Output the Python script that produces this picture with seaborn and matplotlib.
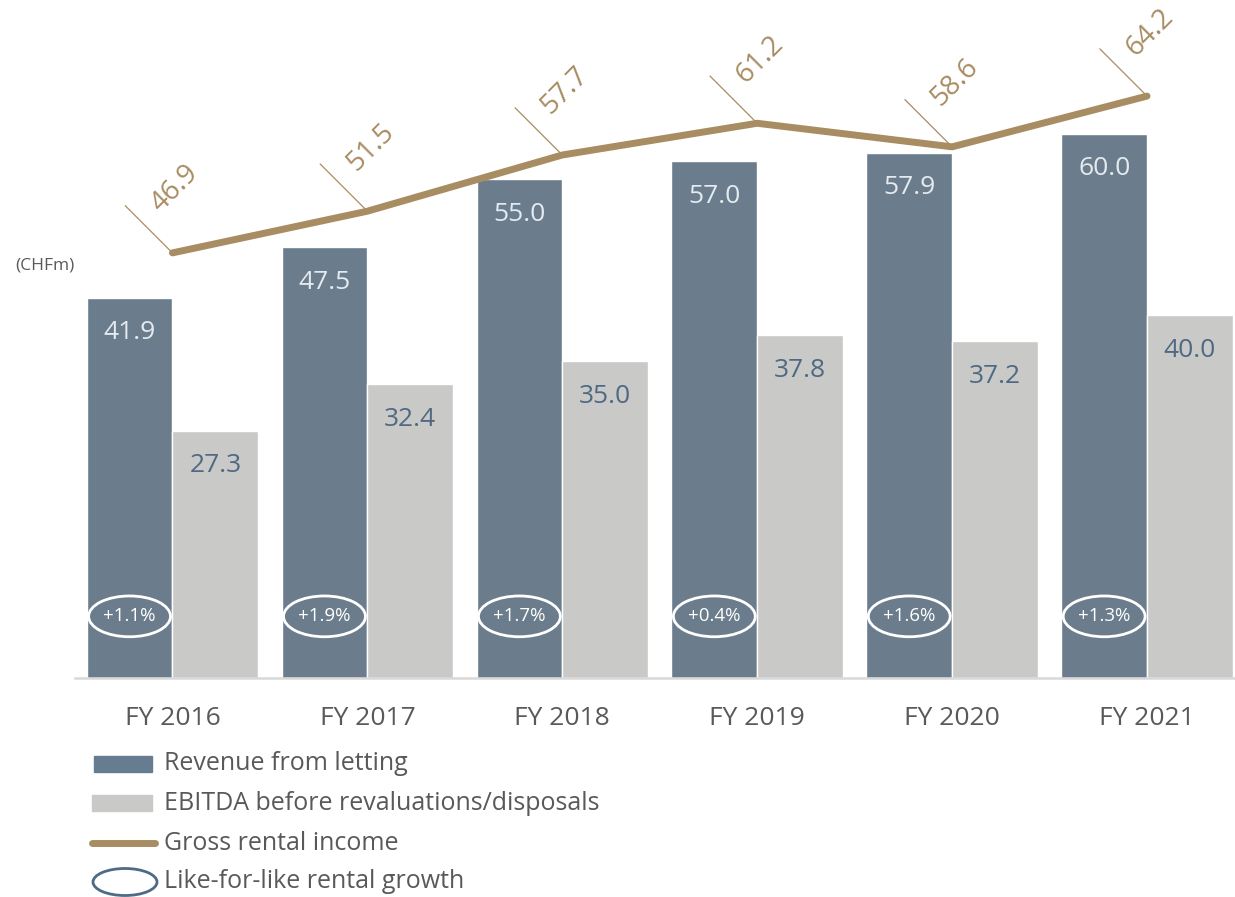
import numpy as np
import pandas as pd
import matplotlib
matplotlib.use("Agg")
import matplotlib.pyplot as plt
import seaborn as sns
from matplotlib.patches import Ellipse, Rectangle
from matplotlib.lines import Line2D

# data
years = ["FY 2016", "FY 2017", "FY 2018", "FY 2019", "FY 2020", "FY 2021"]
revenue = [41.9, 47.5, 55.0, 57.0, 57.9, 60.0]
ebitda = [27.3, 32.4, 35.0, 37.8, 37.2, 40.0]
gross_rental = [46.9, 51.5, 57.7, 61.2, 58.6, 64.2]
lfl_growth = ["+1.1%", "+1.9%", "+1.7%", "+0.4%", "+1.6%", "+1.3%"]

series_names = ["Revenue from letting", "EBITDA before revaluations/disposals"]

C_REV = "#667d91"
C_EBITDA = "#c9c9c8"
C_LINE = "#a88c62"
C_TEXT = "#595959"
C_EB_LABEL = "#4f6983"
C_REV_LABEL = "#e4eaef"
C_OVAL = "#4e6a85"

sns.set_theme(style="white")
plt.rcParams["font.family"] = ["Open Sans", "DejaVu Sans"]

df = pd.DataFrame({
    "year": years * 2,
    "series": [series_names[0]] * len(years) + [series_names[1]] * len(years),
    "value": revenue + ebitda,
})

W, H = 1235, 897
fig = plt.figure(figsize=(W / 100, H / 100), dpi=100)
ax = fig.add_axes([75 / W, 219 / H, 1169.5 / W, 678 / H])

sns.barplot(data=df, x="year", y="value", hue="series", hue_order=series_names,
            palette=[C_REV, C_EBITDA], width=0.88, gap=0, edgecolor="white",
            linewidth=1, legend=False, ax=ax)

ax.set_xlim(-0.5, 5.5)
ax.set_ylim(0, 74.8)

# gross rental income line
xs = np.arange(len(years))
ax.plot(xs, gross_rental, color=C_LINE, lw=5, solid_capstyle="round", zorder=5)

bw = 0.44
for i in range(len(years)):
    # bar labels
    ax.annotate(f"{revenue[i]:.1f}", (i - bw / 2, revenue[i]), xytext=(0, -25),
                textcoords="offset points", ha="center", va="center",
                fontsize=19, color=C_REV_LABEL)
    ax.annotate(f"{ebitda[i]:.1f}", (i + bw / 2, ebitda[i]), xytext=(0, -25.5),
                textcoords="offset points", ha="center", va="center",
                fontsize=19, color=C_EB_LABEL)
    # line labels with leader
    ax.annotate("", xy=(i, gross_rental[i]), xytext=(-34, 34), textcoords="offset points",
                arrowprops=dict(arrowstyle="-", color=C_LINE, lw=0.9, shrinkA=0, shrinkB=0),
                zorder=4)
    ax.annotate(f"{gross_rental[i]:.1f}", (i, gross_rental[i]), xytext=(2, 46),
                textcoords="offset points", ha="center", va="center", rotation=45,
                rotation_mode="anchor", fontsize=20, color=C_LINE)
    # like-for-like ovals
    ax.add_patch(Ellipse((i - bw / 2, 6.8), width=0.42, height=4.5, fill=False,
                         edgecolor="white", lw=2, zorder=6))
    ax.text(i - bw / 2, 6.8, lfl_growth[i], ha="center", va="center",
            fontsize=13.5, color="white", zorder=7)

# axes styling
for side in ["left", "right", "top"]:
    ax.spines[side].set_visible(False)
ax.spines["bottom"].set_color("#d9d9d9")
ax.spines["bottom"].set_linewidth(1.8)
ax.set_yticks([])
ax.set_xlabel("")
ax.set_ylabel("")
ax.set_xticks(xs)
ax.set_xticklabels(years, fontsize=19, color=C_TEXT)
ax.tick_params(axis="x", which="major", length=0, pad=20)
ax.set_xticks(np.arange(-0.5, 6, 1), minor=True)
ax.tick_params(axis="x", which="minor", length=8, width=1.8, color="#d9d9d9", direction="out")

fig.text(15 / W, 1 - 266 / H, "(CHFm)", fontsize=12.5, color=C_TEXT, va="center", ha="left")

# legend, drawn in pixel space
lax = fig.add_axes([0, 0, 1, 1], zorder=-1)
lax.set_xlim(0, W)
lax.set_ylim(H, 0)
lax.axis("off")
rows = [764, 803, 843, 882]
lax.add_patch(Rectangle((94, rows[0] - 8), 58, 16, color=C_REV))
lax.add_patch(Rectangle((92, rows[1] - 8), 60, 16, color=C_EBITDA))
lax.add_line(Line2D([92, 155], [rows[2], rows[2]], color=C_LINE, lw=5, solid_capstyle="round"))
lax.add_patch(Ellipse((125, rows[3]), 64, 27, fill=False, edgecolor=C_OVAL, lw=2))
for r, lab in zip(rows, series_names + ["Gross rental income", "Like-for-like rental growth"]):
    lax.text(164, r, lab, fontsize=18, color=C_TEXT, va="center", ha="left")

fig.savefig("out.png", dpi=100)
